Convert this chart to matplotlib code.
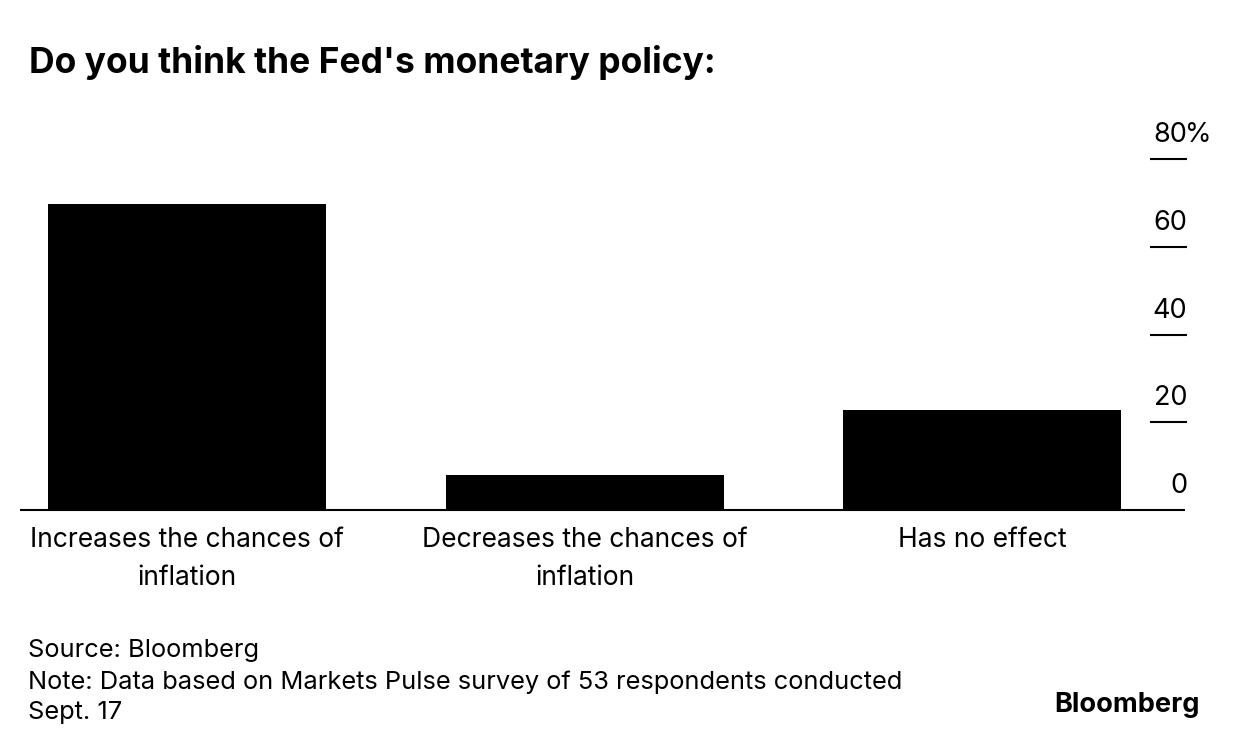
import matplotlib
matplotlib.use("Agg")
import matplotlib.pyplot as plt
import matplotlib.transforms as mtransforms

categories = ["Increases the chances of\ninflation", "Decreases the chances of\ninflation", "Has no effect"]
values = [69.8, 7.9, 22.8]
yticks = [0, 20, 40, 60, 80]
ytick_labels = ["0", "20", "40", "60", "80"]

plt.rcParams['font.family'] = ['Inter', 'DejaVu Sans']

W, H = 1240, 750
fig = plt.figure(figsize=(W / 100, H / 100), dpi=100)

def fx(px):
    return px / W

def fy(py):
    return 1 - py / H

# axes: pixel x 20..1187, y 510 (0) .. 159 (80)
ax = fig.add_axes([fx(20), fy(510), (1187 - 20) / W, (510 - 159) / H])
ax.set_ylim(0, 80)
step = 397.5
x0 = 187
ax.set_xlim((20 - x0) / step, (1187 - x0) / step)
xs = list(range(len(categories)))
ax.bar(xs, values, width=278 / step, color="black", zorder=2)
for s in ax.spines.values():
    s.set_visible(False)
ax.set_xticks([])
ax.set_yticks([])

# baseline
ax.plot([0, (1185 - 20) / (1187 - 20)], [0, 0], transform=ax.transAxes,
        color="black", lw=1.5, zorder=3, clip_on=False, solid_capstyle="butt")

# right ticks and labels
tx0 = (1150 - 20) / (1187 - 20)
blend = mtransforms.blended_transform_factory(ax.transAxes, ax.transData)
for t, lab in zip(yticks, ytick_labels):
    if t != 0:
        ax.plot([tx0, 1.0], [t, t], transform=blend, color="black", lw=1.5,
                clip_on=False, solid_capstyle="butt")
    ax.annotate(lab, xy=(1.0, t), xycoords=blend, xytext=(0, 12.2),
                textcoords="offset points", ha="right", va="baseline", fontsize=19.5)
    if t == yticks[-1]:
        ax.annotate("%", xy=(1.0, t), xycoords=blend, xytext=(-1.5, 12.2),
                    textcoords="offset points", ha="left", va="baseline", fontsize=19.5)

# category labels
for x, c in zip(xs, categories):
    ax.annotate(c, xy=(x, 0), xycoords=("data", "axes fraction"), xytext=(0, -12.5),
                textcoords="offset points", ha="center", va="top", fontsize=19,
                linespacing=1.6)

# title
fig.text(fx(29), fy(62), "Do you think the Fed's monetary policy:", fontsize=25.5,
         fontweight="bold", ha="left", va="center")

# footer
fig.text(fx(28), fy(651), "Source: Bloomberg", fontsize=18.3, ha="left", va="center")
fig.text(fx(28), fy(682), "Note: Data based on Markets Pulse survey of 53 respondents conducted",
         fontsize=18.3, ha="left", va="center")
fig.text(fx(28), fy(712), "Sept. 17", fontsize=18.3, ha="left", va="center")
fig.text(fx(1200), fy(705), "Bloomberg", fontsize=19.5, fontweight="bold", ha="right", va="center")

fig.savefig("out.png", dpi=100, facecolor="white")
